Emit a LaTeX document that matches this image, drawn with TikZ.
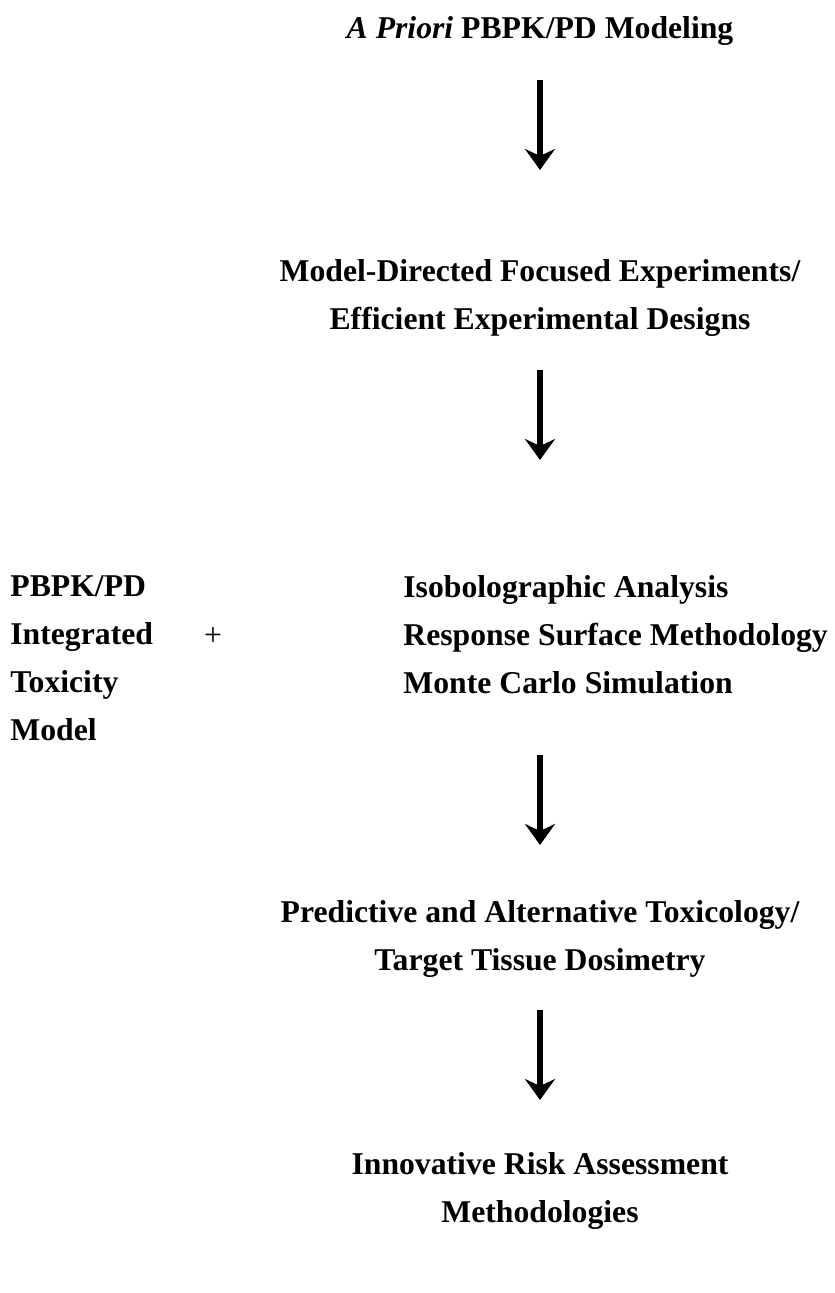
\documentclass[tikz,border=0pt]{standalone}
\usepackage{fontspec}
\setmainfont{Liberation Serif}
\usepackage{tikz}
\usetikzlibrary{arrows.meta, calc}
\tikzstyle{stage} = [align=center, inner sep=0pt, anchor=base, font=\fontsize{15.85pt}{24pt}\selectfont\bfseries]
\tikzstyle{column} = [stage, align=left, anchor=base west]
\tikzstyle{arrow} = [line width=2.8pt, -{Stealth[length=10.5pt, width=15pt, inset=3.5pt]}]

\begin{document}
\begin{tikzpicture}[x=0.5pt, y=-0.5pt]
		\useasboundingbox (0,0) rectangle (834,1293);
		\node (Prior) [stage] at (540,39) {\textit{A Priori} PBPK/PD Modeling};
		\node (Design) [stage] at (540,330) {Model-Directed Focused Experiments/\\Efficient Experimental Designs};
		\node (Integrated) [column] at (10,740) {PBPK/PD\\Integrated\\Toxicity\\Model};
		\node (Plus) [stage, font=\fontsize{15.85pt}{24pt}\selectfont] at (213,645) {+};
		\node (Methods) [column] at (403,693) {Isobolographic Analysis\\Response Surface Methodology\\Monte Carlo Simulation};
		\node (Predict) [stage] at (540,970) {Predictive and Alternative Toxicology/\\Target Tissue Dosimetry};
		\node (Risk) [stage] at (540,1222) {Innovative Risk Assessment\\Methodologies};
		\draw [arrow] ($(Prior.base)+(0,41)$) -- ($(Design.base)+(0,-160)$);
		\draw [arrow] ($(Design.base)+(0,40)$) -- ($(Design.base |- Methods.base)+(0,-233)$);
		\draw [arrow] ($(Predict.base |- Methods.base)+(0,62)$) -- ($(Predict.base)+(0,-125)$);
		\draw [arrow] ($(Predict.base)+(0,40)$) -- ($(Risk.base)+(0,-122)$);
\end{tikzpicture}
\end{document}
